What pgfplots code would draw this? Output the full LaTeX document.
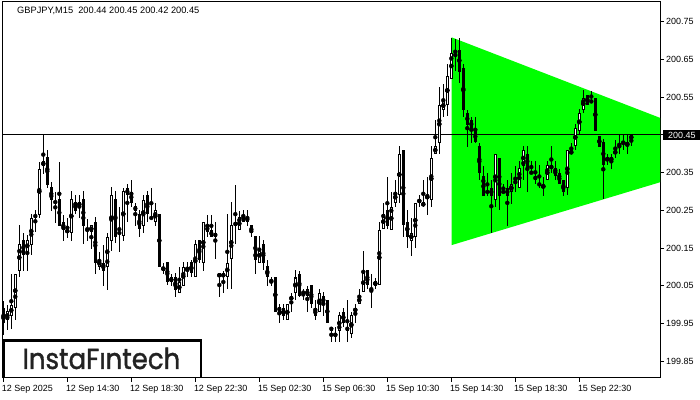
\documentclass[border=0pt]{standalone}
\usepackage{fontspec}
\setmainfont{Liberation Sans}
\newfontfamily\logofont{Poppins}[FakeBold=1.3]
\usepackage{pgfplots}
\usepackage{pgfplotstable}
\pgfplotsset{compat=1.18}
\definecolor{mtgreen}{RGB}{0,255,0}
\definecolor{logogray}{RGB}{34,34,34}

% GBPJPY M15 bars: index, open, high, low, close
\pgfplotstableread{
i o h l c
0 199.990 200.010 199.920 199.950
1 199.961 199.999 199.933 199.983
2 199.971 200.083 199.937 200.001
3 199.992 200.083 199.961 200.083
4 200.090 200.211 200.073 200.161
5 200.172 200.192 200.090 200.132
6 200.141 200.185 200.090 200.172
7 200.160 200.242 200.132 200.232
8 200.240 200.251 200.192 200.232
9 200.240 200.379 200.229 200.362
10 200.369 200.450 200.348 200.381
11 200.391 200.410 200.309 200.317
12 200.312 200.328 200.251 200.278
13 200.272 200.300 200.216 200.272
14 200.280 200.381 200.210 200.210
15 200.220 200.240 200.170 200.200
16 200.192 200.232 200.179 200.200
17 200.192 200.301 200.170 200.280
18 200.271 200.291 200.240 200.249
19 200.260 200.291 200.229 200.271
20 200.280 200.301 200.160 200.210
21 200.200 200.229 200.170 200.200
22 200.192 200.211 200.149 200.211
23 200.221 200.232 200.083 200.111
24 200.101 200.141 200.092 200.120
25 200.113 200.160 200.050 200.090
26 200.101 200.192 200.039 200.182
27 200.170 200.311 200.141 200.291
28 200.280 200.301 200.163 200.180
29 200.192 200.260 200.141 200.192
30 200.182 200.311 200.170 200.301
31 200.312 200.321 200.220 200.291
32 200.301 200.331 200.260 200.271
33 200.262 200.271 200.210 200.249
34 200.240 200.251 200.180 200.200
35 200.211 200.291 200.189 200.280
36 200.291 200.301 200.220 200.240
37 200.231 200.311 200.229 200.231
38 200.221 200.271 200.210 200.251
39 200.240 200.240 200.101 200.101
40 200.090 200.111 200.083 200.101
41 200.113 200.113 200.052 200.061
42 200.073 200.083 200.050 200.061
43 200.073 200.083 200.021 200.040
44 200.033 200.101 200.033 200.061
45 200.050 200.113 200.050 200.101
46 200.090 200.113 200.073 200.101
47 200.113 200.120 200.073 200.083
48 200.073 200.172 200.073 200.161
49 200.172 200.172 200.111 200.120
50 200.111 200.221 200.090 200.221
51 200.211 200.240 200.180 200.192
52 200.200 200.240 200.180 200.180
53 200.192 200.220 200.120 200.180
54 200.073 200.083 200.021 200.083
55 200.073 200.090 200.030 200.083
56 200.073 200.240 200.041 200.112
57 200.120 200.271 200.041 200.210
58 200.220 200.319 200.163 200.210
59 200.200 200.251 200.200 200.233
60 200.240 200.251 200.220 200.220
61 200.233 200.251 200.210 200.220
62 200.211 200.211 200.180 200.191
63 200.182 200.182 200.081 200.120
64 200.111 200.182 200.111 200.152
65 200.161 200.172 200.092 200.112
66 200.103 200.120 200.050 200.073
67 200.063 200.073 200.050 200.063
68 200.073 200.073 199.981 199.981
69 199.995 200.002 199.953 199.981
70 199.992 200.002 199.961 199.971
71 199.961 200.002 199.961 200.002
72 200.012 200.033 199.981 200.023
73 200.033 200.092 200.012 200.073
74 200.083 200.092 200.023 200.023
75 200.033 200.043 200.012 200.033
76 200.023 200.052 199.981 200.042
77 200.052 200.052 199.992 200.002
78 199.992 200.012 199.961 199.971
79 199.981 200.042 199.981 200.033
80 200.023 200.033 199.971 200.002
81 200.012 200.012 199.952 199.952
82 199.942 199.942 199.902 199.931
83 199.922 199.942 199.902 199.922
84 199.931 199.981 199.902 199.973
85 199.983 199.992 199.942 199.952
86 199.943 200.012 199.902 199.931
87 199.921 199.981 199.912 199.973
88 199.981 200.002 199.952 199.992
89 200.002 200.042 200.002 200.023
90 200.033 200.142 200.033 200.083
91 200.092 200.092 200.042 200.052
92 200.042 200.083 199.992 200.042
93 200.052 200.073 200.042 200.063
94 200.052 200.220 200.052 200.200
95 200.200 200.271 200.200 200.240
96 200.251 200.339 200.200 200.210
97 200.200 200.300 200.200 200.260
98 200.271 200.331 200.260 200.300
99 200.291 200.421 200.271 200.400
100 200.410 200.410 200.180 200.210
101 200.220 200.251 200.152 200.180
102 200.170 200.231 200.130 200.191
103 200.180 200.271 200.152 200.271
104 200.280 200.291 200.260 200.271
105 200.260 200.331 200.260 200.271
106 200.280 200.339 200.240 200.291
107 200.280 200.421 200.260 200.391
108 200.400 200.490 200.400 200.421
109 200.431 200.578 200.400 200.530
110 200.518 200.587 200.499 200.540
111 200.530 200.640 200.501 200.607
112 200.598 200.709 200.598 200.669
113 200.677 200.705 200.620 200.668
114 200.677 200.709 200.590 200.618
115 200.629 200.640 200.499 200.518
116 200.510 200.518 200.419 200.478
117 200.490 200.499 200.431 200.469
118 200.461 200.499 200.431 200.431
119 200.421 200.431 200.331 200.350
120 200.341 200.370 200.289 200.289
121 200.300 200.350 200.289 200.300
122 200.311 200.331 200.191 200.289
123 200.279 200.400 200.260 200.400
124 200.391 200.391 200.251 200.289
125 200.300 200.320 200.298 200.300
126 200.311 200.331 200.210 200.289
127 200.300 200.350 200.269 200.320
128 200.331 200.370 200.300 200.320
129 200.311 200.382 200.311 200.362
130 200.370 200.421 200.331 200.410
131 200.400 200.421 200.300 200.362
132 200.350 200.382 200.348 200.350
133 200.341 200.382 200.320 200.331
134 200.320 200.370 200.311 200.320
135 200.311 200.339 200.289 200.320
136 200.331 200.382 200.331 200.370
137 200.362 200.421 200.350 200.370
138 200.362 200.382 200.331 200.341
139 200.350 200.362 200.320 200.320
140 200.331 200.331 200.289 200.300
141 200.311 200.410 200.289 200.410
142 200.400 200.430 200.400 200.410
143 200.421 200.479 200.410 200.469
144 200.461 200.518 200.450 200.510
145 200.518 200.569 200.509 200.549
146 200.558 200.558 200.530 200.530
147 200.540 200.569 200.538 200.540
148 200.549 200.549 200.461 200.461
149 200.450 200.450 200.419 200.419
150 200.431 200.439 200.279 200.370
151 200.382 200.400 200.370 200.391
152 200.382 200.400 200.362 200.391
153 200.400 200.439 200.391 200.410
154 200.421 200.450 200.400 200.421
155 200.431 200.450 200.410 200.431
156 200.421 200.450 200.400 200.431
157 200.440 200.450 200.420 200.450
}\candles

\begin{document}
\begin{tikzpicture}
\begin{axis}[
    name=ax,
    scale only axis,
    width=657.5bp, height=376bp,
    xmin=-0.2, xmax=164.175,
    ymin=199.8054, ymax=200.8028,
    axis line style={line width=1bp, black},
    tick style={line width=1bp, black},
    major tick length=4bp,
    tick align=outside,
    xtick pos=lower, xticklabel pos=lower,
    ytick pos=upper, yticklabel pos=upper,
    xtick={0,16,32,48,64,80,96,112,128,144},
    xticklabels={12 Sep 2025, 12 Sep 14:30, 12 Sep 18:30, 12 Sep 22:30, 15 Sep 02:30, 15 Sep 06:30, 15 Sep 10:30, 15 Sep 14:30, 15 Sep 18:30, 15 Sep 22:30},
    ytick={199.85,199.95,200.05,200.15,200.25,200.35,200.55,200.65,200.75},
    scaled y ticks=false,
    ticklabel style={font=\fontsize{9}{10}\selectfont},
    xticklabel style={anchor=north west, inner sep=0pt, xshift=-1.5bp, yshift=-3bp},
    yticklabel style={anchor=west, inner sep=0pt, xshift=2bp,
        /pgf/number format/fixed, /pgf/number format/fixed zerofill,
        /pgf/number format/precision=2, /pgf/number format/assume math mode=true},
    extra y ticks={200.45},
    extra y tick style={yticklabel style={fill=black, text=white, inner xsep=5bp, inner ysep=1.5bp, xshift=-3bp}},
]
% symmetrical triangle pattern
\addplot[fill=mtgreen, draw=none, forget plot] coordinates {(112.1,200.709) (164.3,200.495) (164.3,200.325) (112.1,200.158)} --cycle;
% current price line
\addplot[black, line width=1bp, forget plot] coordinates {(-1,200.45) (166,200.45)};
% wicks
\addplot[only marks, mark=none, forget plot,
    error bars/.cd, y dir=both, y explicit, error mark=none,
    error bar style={draw=black, line width=1bp}]
  table[x=i, y expr={(\thisrow{h}+\thisrow{l})/2}, y error expr={(\thisrow{h}-\thisrow{l})/2}] {\candles};
% bodies
\addplot[only marks, mark=none, forget plot,
    error bars/.cd, y dir=both, y explicit, error mark=none,
    error bar style={draw=black, line width=3bp}]
  table[x=i, y expr={(\thisrow{o}+\thisrow{c})/2}, y error expr={max(abs(\thisrow{c}-\thisrow{o})/2,0.0014)}] {\candles};
% white inside of rising bars
\addplot[only marks, mark=none, forget plot,
    error bars/.cd, y dir=both, y explicit, error mark=none,
    error bar style={draw=white, line width=1bp}]
  table[x=i, y expr={(\thisrow{c}>\thisrow{o})*((\thisrow{o}+\thisrow{c})/2-199)+199}, y error expr={max((\thisrow{c}-\thisrow{o})/2-0.0027,0)}] {\candles};

\node[anchor=base west, inner sep=0pt, font=\fontsize{9.3}{10}\selectfont] at ([xshift=14.5bp,yshift=-12bp]rel axis cs:0,1) {GBPJPY,M15\ \ 200.44 200.45 200.42 200.45};

\draw[line width=2.3bp, black, fill=white] ([xshift=1.5bp,yshift=-0.5bp]rel axis cs:0,0) rectangle ([xshift=198.5bp,yshift=37.5bp]rel axis cs:0,0);
\node[anchor=base, inner sep=0pt, text=logogray, font=\logofont\fontsize{29}{30}\selectfont, xscale=0.9] at ([xshift=98.9bp,yshift=9bp]rel axis cs:0,0) {InstaFıntech};
\end{axis}
\pgfresetboundingbox
\useasboundingbox ([xshift=-2.5bp,yshift=-22bp]ax.south west) rectangle ([xshift=40bp,yshift=2bp]ax.north east);
\end{tikzpicture}
\end{document}
